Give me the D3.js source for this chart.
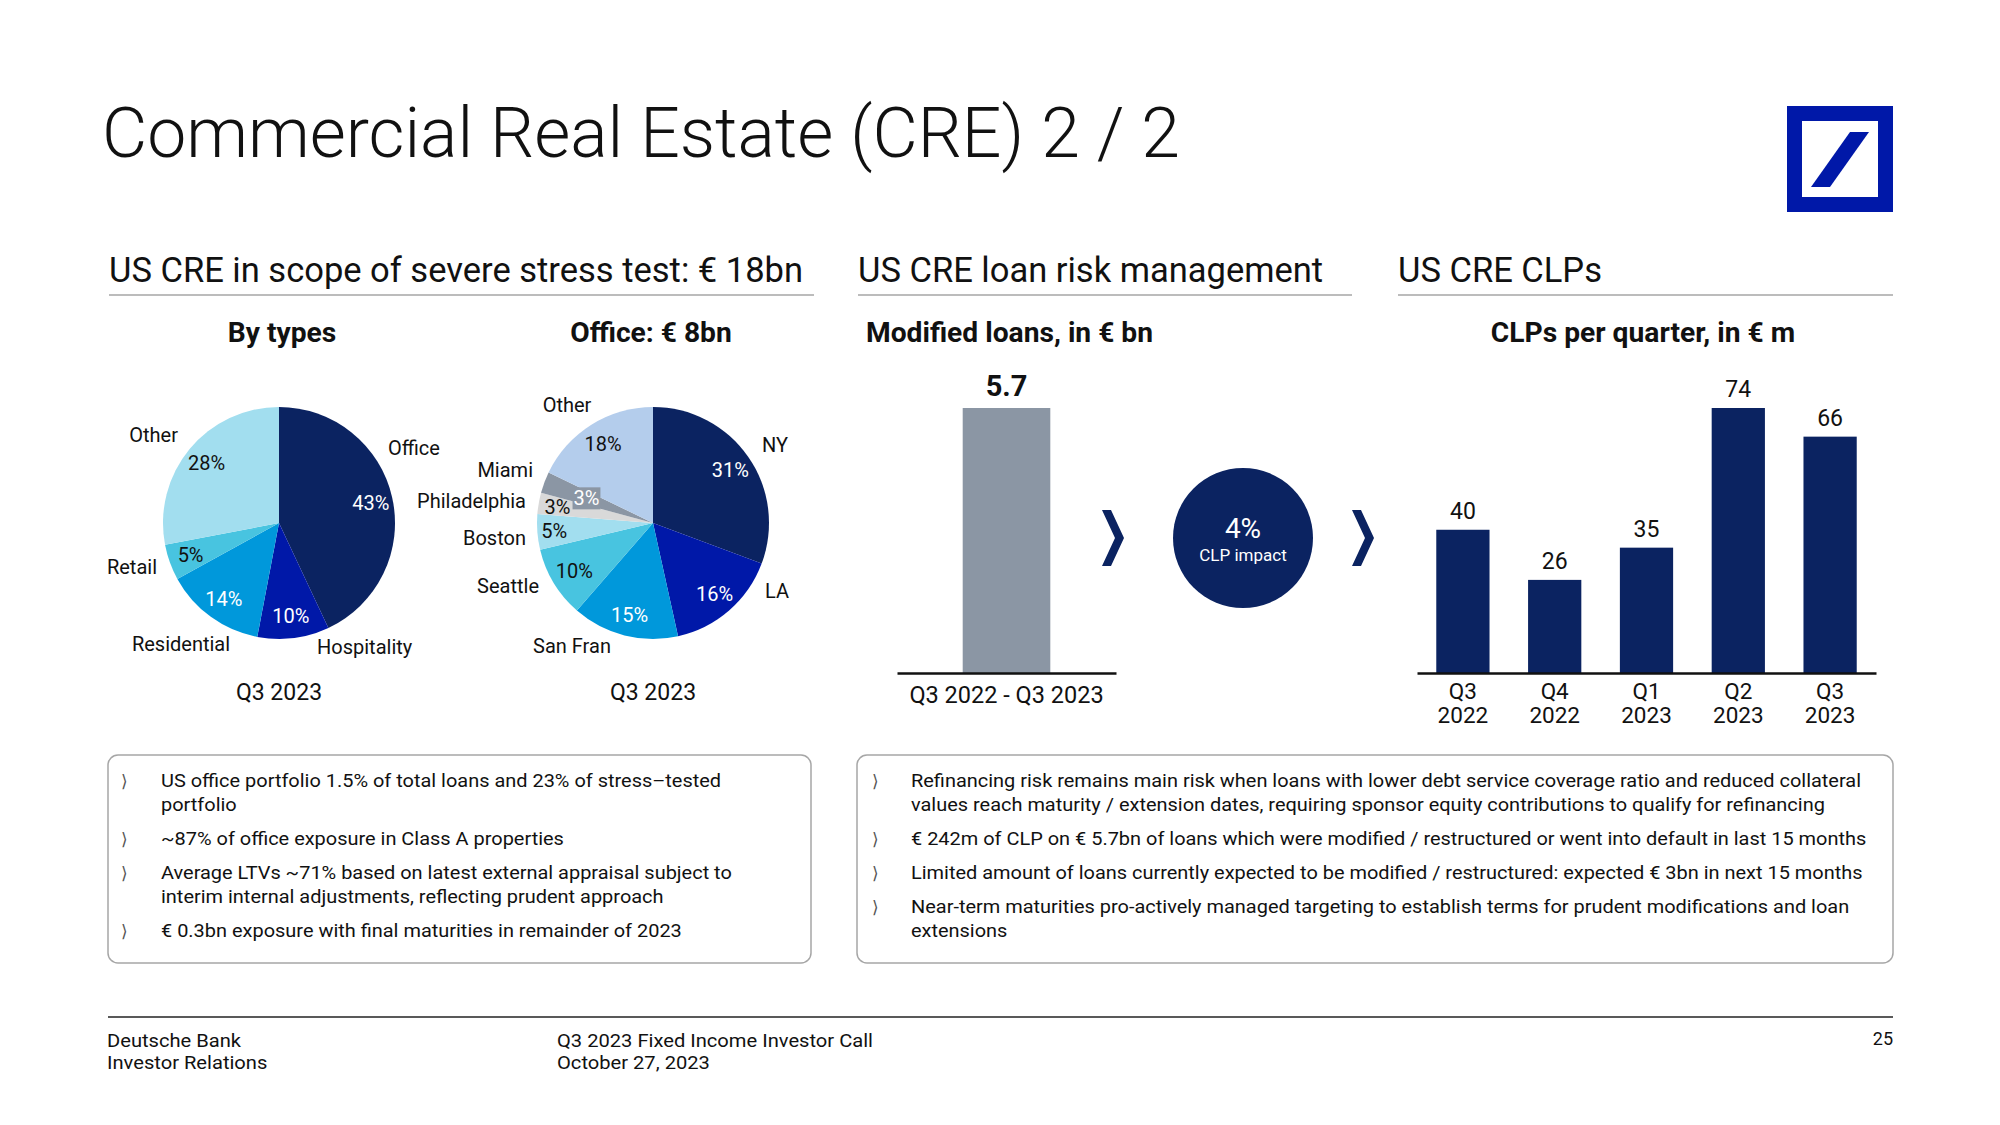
<!DOCTYPE html>
<html><head><meta charset="utf-8">
<script src="https://cdn.jsdelivr.net/npm/d3@7"></script>
<style>
html,body{margin:0;padding:0;background:#fff;}
svg{display:block;}
text{font-family:Roboto,"Liberation Sans",Arial,sans-serif;fill:#111;}
</style></head><body>
<svg id="c" width="2000" height="1125"></svg>
<script>
// ---------------- DATA ----------------
const titleText = "Commercial Real Estate (CRE) 2 / 2";
const sectionTitles = ["US CRE in scope of severe stress test: € 18bn", "US CRE loan risk management", "US CRE CLPs"];
const chartTitles = ["By types", "Office: € 8bn", "Modified loans, in € bn", "CLPs per quarter, in € m"];

const typeCategories = ["Office", "Hospitality", "Residential", "Retail", "Other"];
const typeValues = [43, 10, 14, 5, 28];

const officeCategories = ["NY", "LA", "San Fran", "Seattle", "Boston", "Philadelphia", "Miami", "Other"];
const officeValues = [31, 16, 15, 10, 5, 3, 3, 18];

const pieDateLabel = "Q3 2023";

const modifiedCategories = ["Q3 2022 - Q3 2023"];
const modifiedValues = [5.7];

const clpImpactValue = "4%";
const clpImpactLabel = "CLP impact";

const clpCategories = ["Q3 2022", "Q4 2022", "Q1 2023", "Q2 2023", "Q3 2023"];
const clpValues = [40, 26, 35, 74, 66];

const leftBullets = [
  ["US office portfolio 1.5% of total loans and 23% of stress\u2013tested", "portfolio"],
  ["~87% of office exposure in Class A properties"],
  ["Average LTVs ~71% based on latest external appraisal subject to", "interim internal adjustments, reflecting prudent approach"],
  ["€ 0.3bn exposure with final maturities in remainder of 2023"]
];
const rightBullets = [
  ["Refinancing risk remains main risk when loans with lower debt service coverage ratio and reduced collateral", "values reach maturity / extension dates, requiring sponsor equity contributions to qualify for refinancing"],
  ["€ 242m of CLP on € 5.7bn of loans which were modified / restructured or went into default in last 15 months"],
  ["Limited amount of loans currently expected to be modified / restructured: expected € 3bn in next 15 months"],
  ["Near-term maturities pro-actively managed targeting to establish terms for prudent modifications and loan", "extensions"]
];
const footerLeft = ["Deutsche Bank", "Investor Relations"];
const footerMid = ["Q3 2023 Fixed Income Investor Call", "October 27, 2023"];
const pageNumber = "25";

// ---------------- STYLE / LAYOUT ----------------
const NAVY = "#0b2361", DBBLUE = "#0018a8", MID = "#0098db", CYAN = "#48c4e0", LIGHT = "#a2deef",
      OTHERBLUE = "#b4cdec", LGRAY = "#d9d9d9", GRAY = "#8b96a4";
const typeColors = [NAVY, DBBLUE, MID, CYAN, LIGHT];
const typeTextColors = ["#fff", "#fff", "#fff", "#111", "#111"];
const officeColors = [NAVY, DBBLUE, MID, CYAN, LIGHT, LGRAY, GRAY, OTHERBLUE];
const officeTextColors = ["#fff", "#fff", "#fff", "#111", "#111", "#111", "#fff", "#111"];

// name label anchors relative to pie center: [dx, dy(baseline), anchor]
const typeNamePos = [[109, -68, "start"], [38, 131, "start"], [-98, 128, "middle"], [-122, 51, "end"], [-101, -81, "end"]];
const officeNamePos = [[109, -71, "start"], [112, 75, "start"], [-81, 130, "middle"], [-114, 70, "end"],
                       [-127, 22, "end"], [-127, -15, "end"], [-120, -46, "end"], [-86, -111, "middle"]];
const officePctRadius = [94, 94, 95, 92, 99, 97, 71, 94];

const svg = d3.select("#c");
svg.append("rect").attr("width", 2000).attr("height", 1125).attr("fill", "#fff");

function fitFactor(sel, target) {
  const w = sel.node().getComputedTextLength();
  return target / w;
}
function applyFactor(sel, f) {
  sel.each(function () {
    const w = this.getComputedTextLength();
    d3.select(this).attr("textLength", w * f).attr("lengthAdjust", "spacingAndGlyphs");
  });
}

// ---------------- TITLE ----------------
const title = svg.append("text").attr("x", 102).attr("y", 157)
  .style("font-size", "70px").style("font-weight", 300).text(titleText);
applyFactor(title, fitFactor(title, 1078));

// Logo
const logo = svg.append("g");
logo.append("rect").attr("x", 1794.5).attr("y", 113.5).attr("width", 91).attr("height", 91)
  .attr("fill", "none").attr("stroke", DBBLUE).attr("stroke-width", 15);
logo.append("polygon").attr("points", "1811,187 1830,187 1869,132 1850,132").attr("fill", DBBLUE);

// ---------------- SECTION HEADINGS ----------------
const secX = [109, 858, 1398], secEnd = [814, 1352, 1893];
const secSel = svg.selectAll("text.sec").data(sectionTitles).join("text").attr("class", "sec")
  .attr("x", (d, i) => secX[i]).attr("y", 282).style("font-size", "35px").text(d => d);
applyFactor(secSel, fitFactor(d3.select(secSel.nodes()[0]), 694));
svg.selectAll("line.secl").data(sectionTitles).join("line").attr("class", "secl")
  .attr("x1", (d, i) => secX[i]).attr("x2", (d, i) => secEnd[i]).attr("y1", 295).attr("y2", 295)
  .attr("stroke", "#a6a6a6").attr("stroke-width", 1.5);

// chart titles
const ctX = [282, 651, 866, 1643], ctAnchor = ["middle", "middle", "start", "middle"];
const ctSel = svg.selectAll("text.ct").data(chartTitles).join("text").attr("class", "ct")
  .attr("x", (d, i) => ctX[i]).attr("y", 342).attr("text-anchor", (d, i) => ctAnchor[i])
  .style("font-size", "28px").style("font-weight", 700).text(d => d);
applyFactor(ctSel, fitFactor(d3.select(ctSel.nodes()[2]), 287));

// ---------------- PIES ----------------
function drawPie(cx, cy, r, cats, vals, colors, textColors, namePos, pctRadius) {
  const g = svg.append("g").attr("transform", `translate(${cx},${cy})`);
  const pie = d3.pie().sort(null).value(d => d)(vals);
  const arc = d3.arc().innerRadius(0).outerRadius(r);
  g.selectAll("path").data(pie).join("path").attr("d", arc).attr("fill", (d, i) => colors[i]);
  pie.forEach((p, i) => {
    const pr = pctRadius ? pctRadius[i] : 94;
    const [x, y] = d3.arc().innerRadius(pr).outerRadius(pr).centroid(p);
    const t = g.append("text").attr("x", x).attr("y", y).attr("dy", "0.36em").attr("text-anchor", "middle")
      .style("font-size", "20px").style("fill", textColors[i]).text(vals[i] + "%");
    if (pctRadius && pr < 80) {
      const bb = t.node().getBBox();
      g.insert("rect", function () { return t.node(); })
        .attr("x", bb.x - 1).attr("y", bb.y + 1).attr("width", bb.width + 2).attr("height", bb.height - 2)
        .attr("fill", colors[i]);
    }
    const np = namePos[i];
    g.append("text").attr("x", np[0]).attr("y", np[1]).attr("text-anchor", np[2])
      .style("font-size", "20px").text(cats[i]);
  });
  svg.append("text").attr("x", cx).attr("y", 700).attr("text-anchor", "middle")
    .style("font-size", "23px").text(pieDateLabel);
}
drawPie(279, 523, 116, typeCategories, typeValues, typeColors, typeTextColors, typeNamePos, null);
drawPie(653, 523, 116, officeCategories, officeValues, officeColors, officeTextColors, officeNamePos, officePctRadius);

// ---------------- MODIFIED LOANS BAR ----------------
const baseY = 673, topY = 408;
const xm = d3.scaleBand().domain(modifiedCategories).range([897, 1116]).paddingInner(0.6).paddingOuter(0.3);
const ym = d3.scaleLinear().domain([0, d3.max(modifiedValues)]).range([baseY, topY]);
const gm = svg.append("g");
gm.selectAll("rect").data(modifiedValues).join("rect")
  .attr("x", (d, i) => xm(modifiedCategories[i])).attr("width", xm.bandwidth())
  .attr("y", d => ym(d)).attr("height", d => ym(0) - ym(d)).attr("fill", GRAY);
gm.selectAll("text.v").data(modifiedValues).join("text").attr("class", "v")
  .attr("x", (d, i) => xm(modifiedCategories[i]) + xm.bandwidth() / 2).attr("y", d => ym(d) - 12)
  .attr("text-anchor", "middle").style("font-size", "29px").style("font-weight", 700).text(d => d.toFixed(1));
const axM = gm.append("g").attr("transform", `translate(0,${baseY})`)
  .call(d3.axisBottom(xm).tickSize(0).tickPadding(10));
axM.select(".domain").attr("stroke", "#111").attr("stroke-width", 2.5);
axM.selectAll("text").style("font-size", "23.5px").style("font-family", "Roboto, 'Liberation Sans', Arial, sans-serif").attr("fill", "#111").attr("dy", "0.85em");

// chevrons & circle
function chevron(x) {
  svg.append("path").attr("d", `M${x},510 L${x + 9},510 L${x + 22},538 L${x + 9},566 L${x},566 L${x + 13},538 Z`).attr("fill", NAVY);
}
chevron(1102);
chevron(1352);
svg.append("circle").attr("cx", 1243).attr("cy", 538).attr("r", 70).attr("fill", NAVY);
svg.append("text").attr("x", 1243).attr("y", 538).attr("text-anchor", "middle").style("font-size", "28px").style("fill", "#fff").text(clpImpactValue);
svg.append("text").attr("x", 1243).attr("y", 561).attr("text-anchor", "middle").style("font-size", "17px").style("fill", "#fff").text(clpImpactLabel);

// ---------------- CLP BARS ----------------
const xc = d3.scaleBand().domain(clpCategories).range([1417, 1876]).paddingInner(0.42).paddingOuter(0.21);
const yc = d3.scaleLinear().domain([0, d3.max(clpValues)]).range([baseY, topY]);
const gc = svg.append("g");
gc.selectAll("rect").data(clpValues).join("rect")
  .attr("x", (d, i) => xc(clpCategories[i])).attr("width", xc.bandwidth())
  .attr("y", d => yc(d)).attr("height", d => yc(0) - yc(d)).attr("fill", NAVY);
gc.selectAll("text.v").data(clpValues).join("text").attr("class", "v")
  .attr("x", (d, i) => xc(clpCategories[i]) + xc.bandwidth() / 2).attr("y", d => yc(d) - 11)
  .attr("text-anchor", "middle").style("font-size", "23px").text(d => d);
const axC = gc.append("g").attr("transform", `translate(0,${baseY})`)
  .call(d3.axisBottom(xc).tickSize(0).tickPadding(0).tickFormat(""));
axC.select(".domain").attr("stroke", "#111").attr("stroke-width", 2.5);
axC.selectAll(".tick").each(function (d) {
  const parts = d.split(" ");
  const t = d3.select(this).append("text").attr("text-anchor", "middle")
    .style("font-size", "22.5px").attr("fill", "#111")
    .style("font-family", "Roboto, 'Liberation Sans', Arial, sans-serif");
  parts.forEach((p, j) => t.append("tspan").attr("x", 0).attr("y", 26 + j * 24).text(p));
});

// ---------------- TEXT BOXES ----------------
svg.append("rect").attr("x", 108).attr("y", 755).attr("width", 703).attr("height", 208).attr("rx", 10)
  .attr("fill", "none").attr("stroke", "#a6a6a6").attr("stroke-width", 1.5);
svg.append("rect").attr("x", 857).attr("y", 755).attr("width", 1036).attr("height", 208).attr("rx", 10)
  .attr("fill", "none").attr("stroke", "#a6a6a6").attr("stroke-width", 1.5);

function drawBullets(bullets, textX, bulletX) {
  const g = svg.append("g");
  let y = 787;
  bullets.forEach((lines, i) => {
    if (i > 0) y += 34;
    g.append("text").attr("x", bulletX).attr("y", y).style("font-size", "17px")
      .style("font-family", "'DejaVu Sans', sans-serif").style("fill", "#555").text("\u27E9");
    lines.forEach((ln, j) => {
      if (j > 0) y += 24;
      g.append("text").attr("class", "body").attr("x", textX).attr("y", y).style("font-size", "19px").text(ln);
    });
  });
  return g;
}
const gl = drawBullets(leftBullets, 161, 121);
const gr = drawBullets(rightBullets, 911, 872);
const bodyFactor = fitFactor(gr.select("text.body"), 950);
applyFactor(gl.selectAll("text.body"), bodyFactor);
applyFactor(gr.selectAll("text.body"), bodyFactor);

// ---------------- FOOTER ----------------
svg.append("line").attr("x1", 108).attr("x2", 1893).attr("y1", 1017).attr("y2", 1017).attr("stroke", "#222").attr("stroke-width", 1.5);
const fl = svg.selectAll("text.fl").data(footerLeft).join("text").attr("class", "fl")
  .attr("x", 107).attr("y", (d, i) => 1047 + i * 22).style("font-size", "18px").text(d => d);
const fm = svg.selectAll("text.fm").data(footerMid).join("text").attr("class", "fm")
  .attr("x", 557).attr("y", (d, i) => 1047 + i * 22).style("font-size", "18px").text(d => d);
const footFactor = fitFactor(d3.select(fm.nodes()[0]), 316);
applyFactor(fl, footFactor); applyFactor(fm, footFactor);
svg.append("text").attr("x", 1893).attr("y", 1045).attr("text-anchor", "end").style("font-size", "18px").text(pageNumber);
</script>
</body></html>
